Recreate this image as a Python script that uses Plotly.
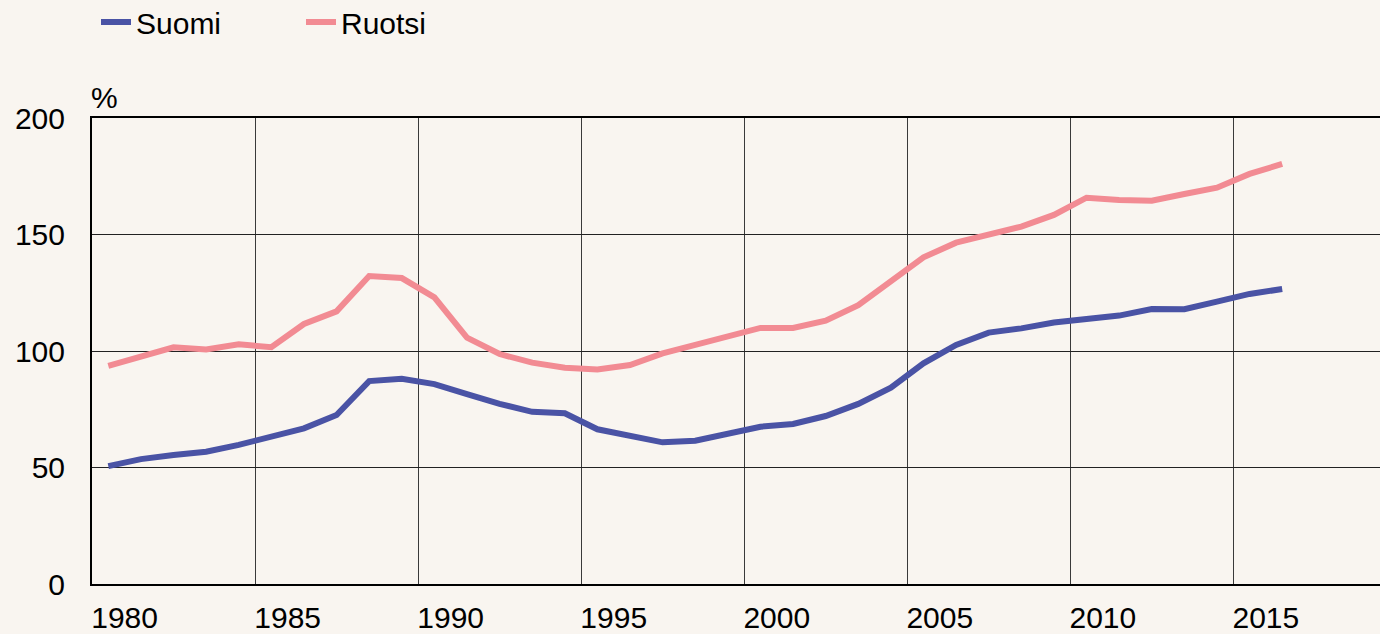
import plotly.graph_objects as go

years = list(range(1980, 2017))
suomi = [50.6, 53.6, 55.4, 56.8, 59.7, 63.0, 66.8, 72.5, 87.1, 88.1,
         85.8, 81.5, 77.3, 73.9, 73.3, 66.4, 63.9, 60.8, 61.5, 64.2,
         67.5, 68.7, 72.1, 77.3, 84.3, 94.7, 102.6, 107.9, 109.7, 112.2,
         114.0, 115.2, 118.0, 117.9, 121.2, 124.5, 126.6]
ruotsi = [93.6, 97.6, 101.6, 100.7, 102.9, 101.6, 111.6, 117.0, 132.2, 131.3,
          123.0, 105.7, 98.7, 95.0, 92.8, 92.1, 94.0, 99.0, 102.6, 106.1,
          109.9, 109.9, 113.0, 119.7, 130.0, 140.2, 146.5, 149.8, 153.4, 158.4,
          165.8, 164.8, 164.5, 167.4, 170.1, 176.0, 180.3]
tick_labels = ["1980", "1985", "1990", "1995", "2000", "2005", "2010", "2015"]
label_pos = [int(t) + 0.5 for t in tick_labels]
grid_pos = [int(t) + 4.5 for t in tick_labels[:-1]]
y_ticks = [0, 50, 100, 150, 200]

BG = "#f9f5f0"
FONT = "Liberation Sans, Arial, sans-serif"
FS = 30

fig = go.Figure()
fig.add_trace(go.Scatter(x=years, y=suomi, name="Suomi", mode="lines",
                         line=dict(color="#4a53a5", width=6)))
fig.add_trace(go.Scatter(x=years, y=ruotsi, name="Ruotsi", mode="lines",
                         line=dict(color="#f28b93", width=6)))

fig.update_layout(
    width=1380, height=634,
    paper_bgcolor=BG, plot_bgcolor=BG,
    margin=dict(l=92, r=0, t=118, b=50, autoexpand=False),
    font=dict(family=FONT, size=FS, color="#000000"),
    showlegend=True,
    legend=dict(orientation="h", x=4 / 1288, xanchor="left", xref="paper",
                y=1 - 22 / 634, yref="container", yanchor="middle",
                bgcolor="rgba(0,0,0,0)", font=dict(size=FS),
                entrywidth=160, entrywidthmode="pixels", itemwidth=30),
    xaxis=dict(range=[1979.5, 2019.0], tickvals=label_pos, ticktext=tick_labels,
               showgrid=False, zeroline=False, showline=True, linecolor="#000000",
               linewidth=2, mirror=True, ticks="", ticklabelstandoff=6,
               automargin=False, tickfont=dict(size=FS),
               minor=dict(tickvals=grid_pos, showgrid=True, gridcolor="#3a3a3a",
                          gridwidth=1, ticks="")),
    yaxis=dict(range=[0, 200], tickvals=y_ticks, showgrid=True, gridcolor="#222222",
               gridwidth=1, zeroline=False, showline=True, linecolor="#000000",
               linewidth=2, ticks="", ticklabelstandoff=19, automargin=False,
               tickfont=dict(size=FS)),
    annotations=[dict(text="%", xref="paper", yref="paper", x=0, y=1.0,
                      xanchor="left", yanchor="bottom", showarrow=False,
                      font=dict(size=FS), yshift=2, xshift=-3)],
)

fig.write_html("out.html",
               config={"displayModeBar": False},
               post_script="document.body.style.margin='0';"
                           "document.body.style.overflow='hidden';")
